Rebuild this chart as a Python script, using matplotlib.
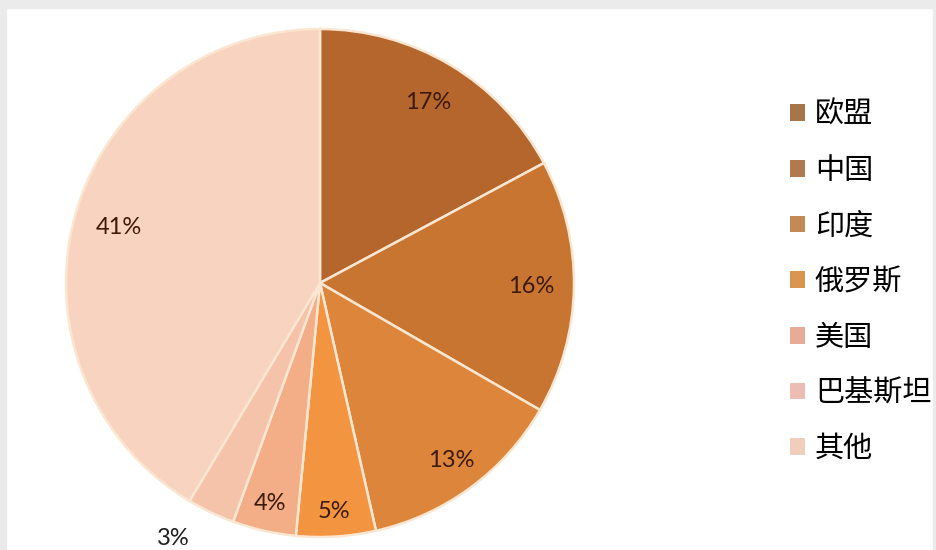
import numpy as np
import matplotlib
matplotlib.use("Agg")
import matplotlib.pyplot as plt
from matplotlib.patches import Rectangle, Patch

plt.rcParams['font.family'] = ['Noto Sans CJK SC', 'DejaVu Sans']

# data
categories = ["欧盟", "中国", "印度", "俄罗斯", "美国", "巴基斯坦", "其他"]
values = [17, 16, 13, 5, 4, 3, 41]

colors = ["#b4662c", "#c97532", "#dd853a", "#f29440", "#f3ae88", "#f5c2aa", "#f8d3c0"]
legend_colors = ["#a8744a", "#b07a4c", "#c48a55", "#d8964f", "#e8ab96", "#ecbdb4", "#f1cdbb"]
label_dist = [0.83, 0.83, 0.87, 0.90, 0.89, 1.16, 0.82]
label_angle_shift = [0, 0, 0, 0, 0, -4.5, 0]

W, H = 937, 550
fig = plt.figure(figsize=(W / 100, H / 100), dpi=100)
ax = fig.add_axes([0, 0, 1, 1])

cx, cy, R = 320, H - 283, 254
wedges, _ = ax.pie(values, colors=colors, startangle=90, counterclock=False,
                   center=(cx, cy), radius=R,
                   wedgeprops=dict(edgecolor="#fbe6d2", linewidth=1.8))

for w, v, d, s in zip(wedges, values, label_dist, label_angle_shift):
    th = np.deg2rad((w.theta1 + w.theta2) / 2 + s)
    x = cx + R * d * np.cos(th)
    y = cy + R * d * np.sin(th)
    col = "#1e1e1e" if d > 1 else "#3e1a0a"
    ax.text(x, y, f"{v}%", ha="center", va="center", fontsize=17,
            color=col, family=['Lato', 'DejaVu Sans'])

ax.set_xlim(0, W)
ax.set_ylim(0, H)
ax.set_aspect("equal")
ax.axis("off")

# grey frame strips
ax.add_patch(Rectangle((0, H - 8), W, 8, color="#ebebeb", zorder=5, clip_on=False))
ax.add_patch(Rectangle((0, 0), 6, H, color="#ebebeb", zorder=5, clip_on=False))
ax.add_patch(Rectangle((W - 4, 0), 4, H, color="#ebebeb", zorder=5, clip_on=False))

handles = [Patch(facecolor=c, edgecolor="none") for c in legend_colors]
fig.legend(handles, categories, loc="upper left",
           bbox_to_anchor=(790 / W, 1 - 100 / H), frameon=False,
           fontsize=21, labelspacing=0.88, handlelength=0.51, handleheight=0.51,
           handletextpad=0.34, borderpad=0, borderaxespad=0)

fig.savefig("out.png", dpi=100, facecolor="white")
